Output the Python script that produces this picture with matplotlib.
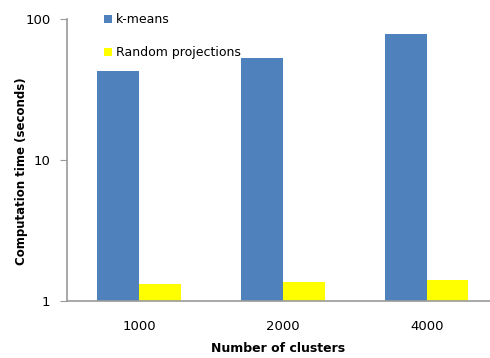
import numpy as np
import matplotlib
matplotlib.use('Agg')
import matplotlib.pyplot as plt

# Timing results (seconds) per number of clusters
clusters = ['1000', '2000', '4000']
kmeans_times = [42.8, 52.9, 78.0]
random_proj_times = [1.31, 1.37, 1.40]

plt.rcParams['font.family'] = ['DejaVu Sans']
plt.rcParams['font.size'] = 9

fig = plt.figure(figsize=(4.9, 3.58), dpi=100)
ax = fig.add_axes([67 / 490, 57 / 358, 423 / 490, 282 / 358])

x = np.arange(len(clusters))
width = 0.29

bars1 = ax.bar(x - width / 2, kmeans_times, width, color='#4F81BD', label='k-means')
bars2 = ax.bar(x + width / 2, random_proj_times, width, color='#FFFF00', label='Random projections')

ax.set_yscale('log')
ax.set_ylim(1, 100)
ax.set_xlim(-0.5, 2.44)
ax.set_yticks([1, 10, 100])
ax.set_yticklabels(['1', '10', '100'])
ax.minorticks_off()
ax.set_xticks(x)
ax.set_xticklabels(clusters)
ax.tick_params(labelsize=9.5)

for side in ['top', 'right']:
    ax.spines[side].set_visible(False)
for side in ['left', 'bottom']:
    ax.spines[side].set_color('#9a9a9a')
    ax.spines[side].set_linewidth(1.2)

ax.tick_params(axis='y', length=5, color='#9a9a9a', pad=7)
ax.tick_params(axis='x', length=0, pad=14)

ax.set_xlabel('Number of clusters', fontweight='bold', labelpad=6)
ax.set_ylabel('Computation time (seconds)', fontweight='bold', fontsize=8.5)
ax.yaxis.set_label_coords(-39 / 423, 0.46)

ax.legend(loc='upper left', bbox_to_anchor=(0.06, 1.06), frameon=False,
          handlelength=0.7, handleheight=0.7, handletextpad=0.3,
          labelspacing=1.6, fontsize=9)

plt.savefig('out.png', dpi=100)
